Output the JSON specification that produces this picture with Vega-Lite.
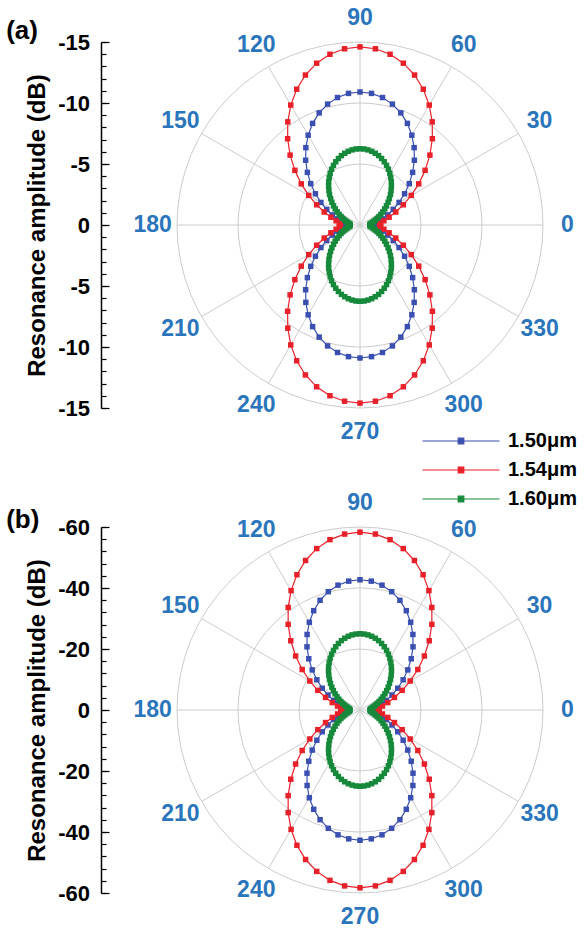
{
"$schema": "https://vega.github.io/schema/vega-lite/v6.json",
"autosize": {"type": "pad"},
"padding": {"left": 6, "top": 6, "right": 0, "bottom": 0},
"background": "white",
"config": {"view": {"stroke": null}, "font": "Liberation Sans"},
"datasets": {
"spokes": [{"a":0},{"a":30},{"a":60},{"a":90},{"a":120},{"a":150}],
"lab": [{"a":0},{"a":30},{"a":60},{"a":90},{"a":120},{"a":150},{"a":180},{"a":210},{"a":240},{"a":270},{"a":300},{"a":330}],
"ringsA": [{"g":5},{"g":10},{"g":15}],
"ringsB": [{"g":20},{"g":40},{"g":60}],
"a": [
{"s":"1.50μm","t":0,"r":1.3},{"s":"1.50μm","t":5,"r":1.37},{"s":"1.50μm","t":10,"r":1.59},{"s":"1.50μm","t":15,"r":1.94},{"s":"1.50μm","t":20,"r":2.42},{"s":"1.50μm","t":25,"r":3.01},{"s":"1.50μm","t":30,"r":3.7},{"s":"1.50μm","t":35,"r":4.46},{"s":"1.50μm","t":40,"r":5.27},{"s":"1.50μm","t":45,"r":6.1},{"s":"1.50μm","t":50,"r":6.93},{"s":"1.50μm","t":55,"r":7.74},{"s":"1.50μm","t":60,"r":8.5},{"s":"1.50μm","t":65,"r":9.19},{"s":"1.50μm","t":70,"r":9.78},{"s":"1.50μm","t":75,"r":10.26},{"s":"1.50μm","t":80,"r":10.61},{"s":"1.50μm","t":85,"r":10.83},{"s":"1.50μm","t":90,"r":10.9},
{"s":"1.50μm","t":95,"r":10.83},{"s":"1.50μm","t":100,"r":10.61},{"s":"1.50μm","t":105,"r":10.26},{"s":"1.50μm","t":110,"r":9.78},{"s":"1.50μm","t":115,"r":9.19},{"s":"1.50μm","t":120,"r":8.5},{"s":"1.50μm","t":125,"r":7.74},{"s":"1.50μm","t":130,"r":6.93},{"s":"1.50μm","t":135,"r":6.1},{"s":"1.50μm","t":140,"r":5.27},{"s":"1.50μm","t":145,"r":4.46},{"s":"1.50μm","t":150,"r":3.7},{"s":"1.50μm","t":155,"r":3.01},{"s":"1.50μm","t":160,"r":2.42},{"s":"1.50μm","t":165,"r":1.94},{"s":"1.50μm","t":170,"r":1.59},{"s":"1.50μm","t":175,"r":1.37},{"s":"1.50μm","t":180,"r":1.3},
{"s":"1.50μm","t":185,"r":1.37},{"s":"1.50μm","t":190,"r":1.59},{"s":"1.50μm","t":195,"r":1.94},{"s":"1.50μm","t":200,"r":2.42},{"s":"1.50μm","t":205,"r":3.01},{"s":"1.50μm","t":210,"r":3.7},{"s":"1.50μm","t":215,"r":4.46},{"s":"1.50μm","t":220,"r":5.27},{"s":"1.50μm","t":225,"r":6.1},{"s":"1.50μm","t":230,"r":6.93},{"s":"1.50μm","t":235,"r":7.74},{"s":"1.50μm","t":240,"r":8.5},{"s":"1.50μm","t":245,"r":9.19},{"s":"1.50μm","t":250,"r":9.78},{"s":"1.50μm","t":255,"r":10.26},{"s":"1.50μm","t":260,"r":10.61},{"s":"1.50μm","t":265,"r":10.83},{"s":"1.50μm","t":270,"r":10.9},
{"s":"1.50μm","t":275,"r":10.83},{"s":"1.50μm","t":280,"r":10.61},{"s":"1.50μm","t":285,"r":10.26},{"s":"1.50μm","t":290,"r":9.78},{"s":"1.50μm","t":295,"r":9.19},{"s":"1.50μm","t":300,"r":8.5},{"s":"1.50μm","t":305,"r":7.74},{"s":"1.50μm","t":310,"r":6.93},{"s":"1.50μm","t":315,"r":6.1},{"s":"1.50μm","t":320,"r":5.27},{"s":"1.50μm","t":325,"r":4.46},{"s":"1.50μm","t":330,"r":3.7},{"s":"1.50μm","t":335,"r":3.01},{"s":"1.50μm","t":340,"r":2.42},{"s":"1.50μm","t":345,"r":1.94},{"s":"1.50μm","t":350,"r":1.59},{"s":"1.50μm","t":355,"r":1.37},
{"s":"1.54μm","t":0,"r":1.6},{"s":"1.54μm","t":5,"r":1.7},{"s":"1.54μm","t":10,"r":1.99},{"s":"1.54μm","t":15,"r":2.47},{"s":"1.54μm","t":20,"r":3.12},{"s":"1.54μm","t":25,"r":3.92},{"s":"1.54μm","t":30,"r":4.85},{"s":"1.54μm","t":35,"r":5.88},{"s":"1.54μm","t":40,"r":6.97},{"s":"1.54μm","t":45,"r":8.1},{"s":"1.54μm","t":50,"r":9.23},{"s":"1.54μm","t":55,"r":10.32},{"s":"1.54μm","t":60,"r":11.35},{"s":"1.54μm","t":65,"r":12.28},{"s":"1.54μm","t":70,"r":13.08},{"s":"1.54μm","t":75,"r":13.73},{"s":"1.54μm","t":80,"r":14.21},{"s":"1.54μm","t":85,"r":14.5},{"s":"1.54μm","t":90,"r":14.6},
{"s":"1.54μm","t":95,"r":14.5},{"s":"1.54μm","t":100,"r":14.21},{"s":"1.54μm","t":105,"r":13.73},{"s":"1.54μm","t":110,"r":13.08},{"s":"1.54μm","t":115,"r":12.28},{"s":"1.54μm","t":120,"r":11.35},{"s":"1.54μm","t":125,"r":10.32},{"s":"1.54μm","t":130,"r":9.23},{"s":"1.54μm","t":135,"r":8.1},{"s":"1.54μm","t":140,"r":6.97},{"s":"1.54μm","t":145,"r":5.88},{"s":"1.54μm","t":150,"r":4.85},{"s":"1.54μm","t":155,"r":3.92},{"s":"1.54μm","t":160,"r":3.12},{"s":"1.54μm","t":165,"r":2.47},{"s":"1.54μm","t":170,"r":1.99},{"s":"1.54μm","t":175,"r":1.7},{"s":"1.54μm","t":180,"r":1.6},
{"s":"1.54μm","t":185,"r":1.7},{"s":"1.54μm","t":190,"r":1.99},{"s":"1.54μm","t":195,"r":2.47},{"s":"1.54μm","t":200,"r":3.12},{"s":"1.54μm","t":205,"r":3.92},{"s":"1.54μm","t":210,"r":4.85},{"s":"1.54μm","t":215,"r":5.88},{"s":"1.54μm","t":220,"r":6.97},{"s":"1.54μm","t":225,"r":8.1},{"s":"1.54μm","t":230,"r":9.23},{"s":"1.54μm","t":235,"r":10.32},{"s":"1.54μm","t":240,"r":11.35},{"s":"1.54μm","t":245,"r":12.28},{"s":"1.54μm","t":250,"r":13.08},{"s":"1.54μm","t":255,"r":13.73},{"s":"1.54μm","t":260,"r":14.21},{"s":"1.54μm","t":265,"r":14.5},{"s":"1.54μm","t":270,"r":14.6},
{"s":"1.54μm","t":275,"r":14.5},{"s":"1.54μm","t":280,"r":14.21},{"s":"1.54μm","t":285,"r":13.73},{"s":"1.54μm","t":290,"r":13.08},{"s":"1.54μm","t":295,"r":12.28},{"s":"1.54μm","t":300,"r":11.35},{"s":"1.54μm","t":305,"r":10.32},{"s":"1.54μm","t":310,"r":9.23},{"s":"1.54μm","t":315,"r":8.1},{"s":"1.54μm","t":320,"r":6.97},{"s":"1.54μm","t":325,"r":5.88},{"s":"1.54μm","t":330,"r":4.85},{"s":"1.54μm","t":335,"r":3.92},{"s":"1.54μm","t":340,"r":3.12},{"s":"1.54μm","t":345,"r":2.47},{"s":"1.54μm","t":350,"r":1.99},{"s":"1.54μm","t":355,"r":1.7},
{"s":"1.60μm","t":0,"r":0.8},{"s":"1.60μm","t":3,"r":0.81},{"s":"1.60μm","t":6,"r":0.86},{"s":"1.60μm","t":9,"r":0.93},{"s":"1.60μm","t":12,"r":1.04},{"s":"1.60μm","t":15,"r":1.17},{"s":"1.60μm","t":18,"r":1.32},{"s":"1.60μm","t":21,"r":1.5},{"s":"1.60μm","t":24,"r":1.7},{"s":"1.60μm","t":27,"r":1.92},{"s":"1.60μm","t":30,"r":2.16},{"s":"1.60μm","t":33,"r":2.42},{"s":"1.60μm","t":36,"r":2.68},{"s":"1.60μm","t":39,"r":2.96},{"s":"1.60μm","t":42,"r":3.24},{"s":"1.60μm","t":45,"r":3.53},{"s":"1.60μm","t":48,"r":3.81},{"s":"1.60μm","t":51,"r":4.09},{"s":"1.60μm","t":54,"r":4.37},{"s":"1.60μm","t":57,"r":4.63},{"s":"1.60μm","t":60,"r":4.89},{"s":"1.60μm","t":63,"r":5.13},{"s":"1.60μm","t":66,"r":5.35},{"s":"1.60μm","t":69,"r":5.55},{"s":"1.60μm","t":72,"r":5.73},{"s":"1.60μm","t":75,"r":5.89},{"s":"1.60μm","t":78,"r":6.01},{"s":"1.60μm","t":81,"r":6.12},{"s":"1.60μm","t":84,"r":6.19},{"s":"1.60μm","t":87,"r":6.24},{"s":"1.60μm","t":90,"r":6.25},
{"s":"1.60μm","t":93,"r":6.24},{"s":"1.60μm","t":96,"r":6.19},{"s":"1.60μm","t":99,"r":6.12},{"s":"1.60μm","t":102,"r":6.01},{"s":"1.60μm","t":105,"r":5.89},{"s":"1.60μm","t":108,"r":5.73},{"s":"1.60μm","t":111,"r":5.55},{"s":"1.60μm","t":114,"r":5.35},{"s":"1.60μm","t":117,"r":5.13},{"s":"1.60μm","t":120,"r":4.89},{"s":"1.60μm","t":123,"r":4.63},{"s":"1.60μm","t":126,"r":4.37},{"s":"1.60μm","t":129,"r":4.09},{"s":"1.60μm","t":132,"r":3.81},{"s":"1.60μm","t":135,"r":3.53},{"s":"1.60μm","t":138,"r":3.24},{"s":"1.60μm","t":141,"r":2.96},{"s":"1.60μm","t":144,"r":2.68},{"s":"1.60μm","t":147,"r":2.42},{"s":"1.60μm","t":150,"r":2.16},{"s":"1.60μm","t":153,"r":1.92},{"s":"1.60μm","t":156,"r":1.7},{"s":"1.60μm","t":159,"r":1.5},{"s":"1.60μm","t":162,"r":1.32},{"s":"1.60μm","t":165,"r":1.17},{"s":"1.60μm","t":168,"r":1.04},{"s":"1.60μm","t":171,"r":0.93},{"s":"1.60μm","t":174,"r":0.86},{"s":"1.60μm","t":177,"r":0.81},{"s":"1.60μm","t":180,"r":0.8},
{"s":"1.60μm","t":183,"r":0.81},{"s":"1.60μm","t":186,"r":0.86},{"s":"1.60μm","t":189,"r":0.93},{"s":"1.60μm","t":192,"r":1.04},{"s":"1.60μm","t":195,"r":1.17},{"s":"1.60μm","t":198,"r":1.32},{"s":"1.60μm","t":201,"r":1.5},{"s":"1.60μm","t":204,"r":1.7},{"s":"1.60μm","t":207,"r":1.92},{"s":"1.60μm","t":210,"r":2.16},{"s":"1.60μm","t":213,"r":2.42},{"s":"1.60μm","t":216,"r":2.68},{"s":"1.60μm","t":219,"r":2.96},{"s":"1.60μm","t":222,"r":3.24},{"s":"1.60μm","t":225,"r":3.53},{"s":"1.60μm","t":228,"r":3.81},{"s":"1.60μm","t":231,"r":4.09},{"s":"1.60μm","t":234,"r":4.37},{"s":"1.60μm","t":237,"r":4.63},{"s":"1.60μm","t":240,"r":4.89},{"s":"1.60μm","t":243,"r":5.13},{"s":"1.60μm","t":246,"r":5.35},{"s":"1.60μm","t":249,"r":5.55},{"s":"1.60μm","t":252,"r":5.73},{"s":"1.60μm","t":255,"r":5.89},{"s":"1.60μm","t":258,"r":6.01},{"s":"1.60μm","t":261,"r":6.12},{"s":"1.60μm","t":264,"r":6.19},{"s":"1.60μm","t":267,"r":6.24},{"s":"1.60μm","t":270,"r":6.25},
{"s":"1.60μm","t":273,"r":6.24},{"s":"1.60μm","t":276,"r":6.19},{"s":"1.60μm","t":279,"r":6.12},{"s":"1.60μm","t":282,"r":6.01},{"s":"1.60μm","t":285,"r":5.89},{"s":"1.60μm","t":288,"r":5.73},{"s":"1.60μm","t":291,"r":5.55},{"s":"1.60μm","t":294,"r":5.35},{"s":"1.60μm","t":297,"r":5.13},{"s":"1.60μm","t":300,"r":4.89},{"s":"1.60μm","t":303,"r":4.63},{"s":"1.60μm","t":306,"r":4.37},{"s":"1.60μm","t":309,"r":4.09},{"s":"1.60μm","t":312,"r":3.81},{"s":"1.60μm","t":315,"r":3.53},{"s":"1.60μm","t":318,"r":3.24},{"s":"1.60μm","t":321,"r":2.96},{"s":"1.60μm","t":324,"r":2.68},{"s":"1.60μm","t":327,"r":2.42},{"s":"1.60μm","t":330,"r":2.16},{"s":"1.60μm","t":333,"r":1.92},{"s":"1.60μm","t":336,"r":1.7},{"s":"1.60μm","t":339,"r":1.5},{"s":"1.60μm","t":342,"r":1.32},{"s":"1.60μm","t":345,"r":1.17},{"s":"1.60μm","t":348,"r":1.04},{"s":"1.60μm","t":351,"r":0.93},{"s":"1.60μm","t":354,"r":0.86},{"s":"1.60μm","t":357,"r":0.81}
],
"b": [
{"s":"1.50μm","t":0,"r":4.8},{"s":"1.50μm","t":5,"r":5.09},{"s":"1.50μm","t":10,"r":5.94},{"s":"1.50μm","t":15,"r":7.34},{"s":"1.50μm","t":20,"r":9.23},{"s":"1.50μm","t":25,"r":11.57},{"s":"1.50μm","t":30,"r":14.28},{"s":"1.50μm","t":35,"r":17.27},{"s":"1.50μm","t":40,"r":20.46},{"s":"1.50μm","t":45,"r":23.75},{"s":"1.50μm","t":50,"r":27.04},{"s":"1.50μm","t":55,"r":30.23},{"s":"1.50μm","t":60,"r":33.23},{"s":"1.50μm","t":65,"r":35.93},{"s":"1.50μm","t":70,"r":38.27},{"s":"1.50μm","t":75,"r":40.16},{"s":"1.50μm","t":80,"r":41.56},{"s":"1.50μm","t":85,"r":42.41},{"s":"1.50μm","t":90,"r":42.7},
{"s":"1.50μm","t":95,"r":42.41},{"s":"1.50μm","t":100,"r":41.56},{"s":"1.50μm","t":105,"r":40.16},{"s":"1.50μm","t":110,"r":38.27},{"s":"1.50μm","t":115,"r":35.93},{"s":"1.50μm","t":120,"r":33.23},{"s":"1.50μm","t":125,"r":30.23},{"s":"1.50μm","t":130,"r":27.04},{"s":"1.50μm","t":135,"r":23.75},{"s":"1.50μm","t":140,"r":20.46},{"s":"1.50μm","t":145,"r":17.27},{"s":"1.50μm","t":150,"r":14.28},{"s":"1.50μm","t":155,"r":11.57},{"s":"1.50μm","t":160,"r":9.23},{"s":"1.50μm","t":165,"r":7.34},{"s":"1.50μm","t":170,"r":5.94},{"s":"1.50μm","t":175,"r":5.09},{"s":"1.50μm","t":180,"r":4.8},
{"s":"1.50μm","t":185,"r":5.09},{"s":"1.50μm","t":190,"r":5.94},{"s":"1.50μm","t":195,"r":7.34},{"s":"1.50μm","t":200,"r":9.23},{"s":"1.50μm","t":205,"r":11.57},{"s":"1.50μm","t":210,"r":14.28},{"s":"1.50μm","t":215,"r":17.27},{"s":"1.50μm","t":220,"r":20.46},{"s":"1.50μm","t":225,"r":23.75},{"s":"1.50μm","t":230,"r":27.04},{"s":"1.50μm","t":235,"r":30.23},{"s":"1.50μm","t":240,"r":33.23},{"s":"1.50μm","t":245,"r":35.93},{"s":"1.50μm","t":250,"r":38.27},{"s":"1.50μm","t":255,"r":40.16},{"s":"1.50μm","t":260,"r":41.56},{"s":"1.50μm","t":265,"r":42.41},{"s":"1.50μm","t":270,"r":42.7},
{"s":"1.50μm","t":275,"r":42.41},{"s":"1.50μm","t":280,"r":41.56},{"s":"1.50μm","t":285,"r":40.16},{"s":"1.50μm","t":290,"r":38.27},{"s":"1.50μm","t":295,"r":35.93},{"s":"1.50μm","t":300,"r":33.23},{"s":"1.50μm","t":305,"r":30.23},{"s":"1.50μm","t":310,"r":27.04},{"s":"1.50μm","t":315,"r":23.75},{"s":"1.50μm","t":320,"r":20.46},{"s":"1.50μm","t":325,"r":17.27},{"s":"1.50μm","t":330,"r":14.28},{"s":"1.50μm","t":335,"r":11.57},{"s":"1.50μm","t":340,"r":9.23},{"s":"1.50μm","t":345,"r":7.34},{"s":"1.50μm","t":350,"r":5.94},{"s":"1.50μm","t":355,"r":5.09},
{"s":"1.54μm","t":0,"r":5.9},{"s":"1.54μm","t":5,"r":6.3},{"s":"1.54μm","t":10,"r":7.48},{"s":"1.54μm","t":15,"r":9.41},{"s":"1.54μm","t":20,"r":12.03},{"s":"1.54μm","t":25,"r":15.26},{"s":"1.54μm","t":30,"r":19},{"s":"1.54μm","t":35,"r":23.14},{"s":"1.54μm","t":40,"r":27.55},{"s":"1.54μm","t":45,"r":32.1},{"s":"1.54μm","t":50,"r":36.65},{"s":"1.54μm","t":55,"r":41.06},{"s":"1.54μm","t":60,"r":45.2},{"s":"1.54μm","t":65,"r":48.94},{"s":"1.54μm","t":70,"r":52.17},{"s":"1.54μm","t":75,"r":54.79},{"s":"1.54μm","t":80,"r":56.72},{"s":"1.54μm","t":85,"r":57.9},{"s":"1.54μm","t":90,"r":58.3},
{"s":"1.54μm","t":95,"r":57.9},{"s":"1.54μm","t":100,"r":56.72},{"s":"1.54μm","t":105,"r":54.79},{"s":"1.54μm","t":110,"r":52.17},{"s":"1.54μm","t":115,"r":48.94},{"s":"1.54μm","t":120,"r":45.2},{"s":"1.54μm","t":125,"r":41.06},{"s":"1.54μm","t":130,"r":36.65},{"s":"1.54μm","t":135,"r":32.1},{"s":"1.54μm","t":140,"r":27.55},{"s":"1.54μm","t":145,"r":23.14},{"s":"1.54μm","t":150,"r":19},{"s":"1.54μm","t":155,"r":15.26},{"s":"1.54μm","t":160,"r":12.03},{"s":"1.54μm","t":165,"r":9.41},{"s":"1.54μm","t":170,"r":7.48},{"s":"1.54μm","t":175,"r":6.3},{"s":"1.54μm","t":180,"r":5.9},
{"s":"1.54μm","t":185,"r":6.3},{"s":"1.54μm","t":190,"r":7.48},{"s":"1.54μm","t":195,"r":9.41},{"s":"1.54μm","t":200,"r":12.03},{"s":"1.54μm","t":205,"r":15.26},{"s":"1.54μm","t":210,"r":19},{"s":"1.54μm","t":215,"r":23.14},{"s":"1.54μm","t":220,"r":27.55},{"s":"1.54μm","t":225,"r":32.1},{"s":"1.54μm","t":230,"r":36.65},{"s":"1.54μm","t":235,"r":41.06},{"s":"1.54μm","t":240,"r":45.2},{"s":"1.54μm","t":245,"r":48.94},{"s":"1.54μm","t":250,"r":52.17},{"s":"1.54μm","t":255,"r":54.79},{"s":"1.54μm","t":260,"r":56.72},{"s":"1.54μm","t":265,"r":57.9},{"s":"1.54μm","t":270,"r":58.3},
{"s":"1.54μm","t":275,"r":57.9},{"s":"1.54μm","t":280,"r":56.72},{"s":"1.54μm","t":285,"r":54.79},{"s":"1.54μm","t":290,"r":52.17},{"s":"1.54μm","t":295,"r":48.94},{"s":"1.54μm","t":300,"r":45.2},{"s":"1.54μm","t":305,"r":41.06},{"s":"1.54μm","t":310,"r":36.65},{"s":"1.54μm","t":315,"r":32.1},{"s":"1.54μm","t":320,"r":27.55},{"s":"1.54μm","t":325,"r":23.14},{"s":"1.54μm","t":330,"r":19},{"s":"1.54μm","t":335,"r":15.26},{"s":"1.54μm","t":340,"r":12.03},{"s":"1.54μm","t":345,"r":9.41},{"s":"1.54μm","t":350,"r":7.48},{"s":"1.54μm","t":355,"r":6.3},
{"s":"1.60μm","t":0,"r":3.3},{"s":"1.60μm","t":3,"r":3.36},{"s":"1.60μm","t":6,"r":3.54},{"s":"1.60μm","t":9,"r":3.83},{"s":"1.60μm","t":12,"r":4.24},{"s":"1.60μm","t":15,"r":4.75},{"s":"1.60μm","t":18,"r":5.37},{"s":"1.60μm","t":21,"r":6.09},{"s":"1.60μm","t":24,"r":6.89},{"s":"1.60μm","t":27,"r":7.77},{"s":"1.60μm","t":30,"r":8.73},{"s":"1.60μm","t":33,"r":9.74},{"s":"1.60μm","t":36,"r":10.8},{"s":"1.60μm","t":39,"r":11.89},{"s":"1.60μm","t":42,"r":13.02},{"s":"1.60μm","t":45,"r":14.15},{"s":"1.60μm","t":48,"r":15.28},{"s":"1.60μm","t":51,"r":16.41},{"s":"1.60μm","t":54,"r":17.5},{"s":"1.60μm","t":57,"r":18.56},{"s":"1.60μm","t":60,"r":19.58},{"s":"1.60μm","t":63,"r":20.53},{"s":"1.60μm","t":66,"r":21.41},{"s":"1.60μm","t":69,"r":22.21},{"s":"1.60μm","t":72,"r":22.93},{"s":"1.60μm","t":75,"r":23.55},{"s":"1.60μm","t":78,"r":24.06},{"s":"1.60μm","t":81,"r":24.47},{"s":"1.60μm","t":84,"r":24.76},{"s":"1.60μm","t":87,"r":24.94},{"s":"1.60μm","t":90,"r":25},
{"s":"1.60μm","t":93,"r":24.94},{"s":"1.60μm","t":96,"r":24.76},{"s":"1.60μm","t":99,"r":24.47},{"s":"1.60μm","t":102,"r":24.06},{"s":"1.60μm","t":105,"r":23.55},{"s":"1.60μm","t":108,"r":22.93},{"s":"1.60μm","t":111,"r":22.21},{"s":"1.60μm","t":114,"r":21.41},{"s":"1.60μm","t":117,"r":20.53},{"s":"1.60μm","t":120,"r":19.58},{"s":"1.60μm","t":123,"r":18.56},{"s":"1.60μm","t":126,"r":17.5},{"s":"1.60μm","t":129,"r":16.41},{"s":"1.60μm","t":132,"r":15.28},{"s":"1.60μm","t":135,"r":14.15},{"s":"1.60μm","t":138,"r":13.02},{"s":"1.60μm","t":141,"r":11.89},{"s":"1.60μm","t":144,"r":10.8},{"s":"1.60μm","t":147,"r":9.74},{"s":"1.60μm","t":150,"r":8.73},{"s":"1.60μm","t":153,"r":7.77},{"s":"1.60μm","t":156,"r":6.89},{"s":"1.60μm","t":159,"r":6.09},{"s":"1.60μm","t":162,"r":5.37},{"s":"1.60μm","t":165,"r":4.75},{"s":"1.60μm","t":168,"r":4.24},{"s":"1.60μm","t":171,"r":3.83},{"s":"1.60μm","t":174,"r":3.54},{"s":"1.60μm","t":177,"r":3.36},{"s":"1.60μm","t":180,"r":3.3},
{"s":"1.60μm","t":183,"r":3.36},{"s":"1.60μm","t":186,"r":3.54},{"s":"1.60μm","t":189,"r":3.83},{"s":"1.60μm","t":192,"r":4.24},{"s":"1.60μm","t":195,"r":4.75},{"s":"1.60μm","t":198,"r":5.37},{"s":"1.60μm","t":201,"r":6.09},{"s":"1.60μm","t":204,"r":6.89},{"s":"1.60μm","t":207,"r":7.77},{"s":"1.60μm","t":210,"r":8.73},{"s":"1.60μm","t":213,"r":9.74},{"s":"1.60μm","t":216,"r":10.8},{"s":"1.60μm","t":219,"r":11.89},{"s":"1.60μm","t":222,"r":13.02},{"s":"1.60μm","t":225,"r":14.15},{"s":"1.60μm","t":228,"r":15.28},{"s":"1.60μm","t":231,"r":16.41},{"s":"1.60μm","t":234,"r":17.5},{"s":"1.60μm","t":237,"r":18.56},{"s":"1.60μm","t":240,"r":19.58},{"s":"1.60μm","t":243,"r":20.53},{"s":"1.60μm","t":246,"r":21.41},{"s":"1.60μm","t":249,"r":22.21},{"s":"1.60μm","t":252,"r":22.93},{"s":"1.60μm","t":255,"r":23.55},{"s":"1.60μm","t":258,"r":24.06},{"s":"1.60μm","t":261,"r":24.47},{"s":"1.60μm","t":264,"r":24.76},{"s":"1.60μm","t":267,"r":24.94},{"s":"1.60μm","t":270,"r":25},
{"s":"1.60μm","t":273,"r":24.94},{"s":"1.60μm","t":276,"r":24.76},{"s":"1.60μm","t":279,"r":24.47},{"s":"1.60μm","t":282,"r":24.06},{"s":"1.60μm","t":285,"r":23.55},{"s":"1.60μm","t":288,"r":22.93},{"s":"1.60μm","t":291,"r":22.21},{"s":"1.60μm","t":294,"r":21.41},{"s":"1.60μm","t":297,"r":20.53},{"s":"1.60μm","t":300,"r":19.58},{"s":"1.60μm","t":303,"r":18.56},{"s":"1.60μm","t":306,"r":17.5},{"s":"1.60μm","t":309,"r":16.41},{"s":"1.60μm","t":312,"r":15.28},{"s":"1.60μm","t":315,"r":14.15},{"s":"1.60μm","t":318,"r":13.02},{"s":"1.60μm","t":321,"r":11.89},{"s":"1.60μm","t":324,"r":10.8},{"s":"1.60μm","t":327,"r":9.74},{"s":"1.60μm","t":330,"r":8.73},{"s":"1.60μm","t":333,"r":7.77},{"s":"1.60μm","t":336,"r":6.89},{"s":"1.60μm","t":339,"r":6.09},{"s":"1.60μm","t":342,"r":5.37},{"s":"1.60μm","t":345,"r":4.75},{"s":"1.60μm","t":348,"r":4.24},{"s":"1.60μm","t":351,"r":3.83},{"s":"1.60μm","t":354,"r":3.54},{"s":"1.60μm","t":357,"r":3.36}
]
},
"vconcat": [
{
"width": 366, "height": 366,
"resolve": {"axis": {"y": "independent"}},
"layer": [
{"data": {"name": "ringsA"}, "mark": {"type": "point", "shape": "circle", "filled": false, "stroke": "#cccccc", "strokeWidth": 1, "opacity": 1},
 "encoding": {"x": {"datum": 0, "type": "quantitative", "scale": {"domain": [-15, 15], "nice": false, "zero": false}, "axis": null},
  "y": {"datum": 0, "type": "quantitative", "scale": {"domain": [-15, 15], "nice": false, "zero": false}, "axis": null},
  "size": {"field": "g", "type": "quantitative", "scale": {"type": "pow", "exponent": 2, "domain": [0, 15], "range": [0, 133956], "zero": true}, "legend": null}}},
{"data": {"name": "spokes"},
 "transform": [{"calculate": "15*cos(datum.a*PI/180)", "as": "x"}, {"calculate": "15*sin(datum.a*PI/180)", "as": "y"}, {"calculate": "-datum.x", "as": "x2"}, {"calculate": "-datum.y", "as": "y2"}],
 "mark": {"type": "rule", "color": "#cccccc", "strokeWidth": 1},
 "encoding": {
  "x": {"field": "x", "type": "quantitative", "axis": null},
  "y": {"field": "y", "type": "quantitative",
   "axis": {"orient": "left", "values": [-15, -10, -5, 0, 5, 10, 15],
    "labelExpr": "datum.value == 0 ? '0' : '-' + abs(datum.value)",
    "offset": 76, "grid": false, "domainColor": "#000000", "domainWidth": 1.5, "tickColor": "#000000", "tickWidth": 1.2, "tickSize": -8,
    "labelPadding": 19.5, "labelFont": "Liberation Sans", "labelFontSize": 22, "labelFontWeight": "bold", "labelColor": "#000000",
    "labelOverlap": false, "labelFlush": false,
    "title": "Resonance amplitude (dB)", "titleFont": "Liberation Sans", "titleFontSize": 24, "titleFontWeight": "bold", "titleColor": "#000000", "titlePadding": 8}},
  "x2": {"field": "x2"}, "y2": {"field": "y2"}}},
{"data": {"name": "a"},
 "transform": [{"calculate": "datum.r*cos(datum.t*PI/180)", "as": "x"}, {"calculate": "datum.r*sin(datum.t*PI/180)", "as": "y"}],
 "layer": [
  {"mark": {"type": "line", "strokeWidth": 1.2, "interpolate": "linear-closed"},
   "encoding": {
    "x": {"field": "x", "type": "quantitative", "axis": null},
    "y": {"field": "y", "type": "quantitative", "axis": null},
    "order": {"field": "t", "type": "quantitative"},
    "color": {"field": "s", "type": "nominal", "scale": {"domain": ["1.50μm", "1.54μm", "1.60μm"], "range": ["#3a4fb0", "#e8202a", "#16893a"]},
     "legend": {"orient": "none", "legendX": 274, "legendY": 389, "title": null, "padding": 0,
      "symbolType": "M-7.7,0L7.7,0M-0.56,-0.56L0.56,-0.56L0.56,0.56L-0.56,0.56Z", "symbolSize": 100, "symbolStrokeWidth": 1.2,
      "labelFont": "Liberation Sans", "labelFontSize": 20, "labelFontWeight": "bold", "labelColor": "#000000", "labelOffset": 37, "rowPadding": 9,
      "encode": {"symbols": {"update": {"fill": {"scale": "color", "field": "value"}, "stroke": {"scale": "color", "field": "value"}}}}}}}},
  {"mark": {"type": "point", "shape": "square", "filled": true, "size": 30, "opacity": 1},
   "encoding": {
    "x": {"field": "x", "type": "quantitative", "axis": null},
    "y": {"field": "y", "type": "quantitative", "axis": null},
    "color": {"field": "s", "type": "nominal"}}}
 ]},
{"data": {"name": "lab"},
 "transform": [{"calculate": "17*cos(datum.a*PI/180)", "as": "x"}, {"calculate": "17*sin(datum.a*PI/180)", "as": "y"}],
 "mark": {"type": "text", "font": "Liberation Sans", "fontSize": 23, "fontWeight": "bold", "color": "#2a75bb", "align": "center", "baseline": "middle"},
 "encoding": {"x": {"field": "x", "type": "quantitative", "axis": null},
  "y": {"field": "y", "type": "quantitative",
   "axis": {"orient": "left", "values": [-15,-14,-13,-12,-11,-10,-9,-8,-7,-6,-5,-4,-3,-2,-1,0,1,2,3,4,5,6,7,8,9,10,11,12,13,14,15],
    "offset": 76, "grid": false, "domain": false, "labels": false, "title": null, "tickColor": "#000000", "tickWidth": 1.2, "tickSize": -5}},
  "text": {"field": "a", "type": "nominal"}}},
{"data": {"values": [{"p": "(a)"}]},
 "mark": {"type": "text", "font": "Liberation Sans", "fontSize": 26, "fontWeight": "bold", "color": "#000000", "align": "left", "baseline": "middle"},
 "encoding": {"x": {"datum": -29, "type": "quantitative", "axis": null}, "y": {"datum": 15.9, "type": "quantitative", "axis": null}, "text": {"field": "p"}}}
]
},
{
"width": 366, "height": 366,
"resolve": {"axis": {"y": "independent"}},
"layer": [
{"data": {"name": "ringsB"}, "mark": {"type": "point", "shape": "circle", "filled": false, "stroke": "#cccccc", "strokeWidth": 1, "opacity": 1},
 "encoding": {"x": {"datum": 0, "type": "quantitative", "scale": {"domain": [-60, 60], "nice": false, "zero": false}, "axis": null},
  "y": {"datum": 0, "type": "quantitative", "scale": {"domain": [-60, 60], "nice": false, "zero": false}, "axis": null},
  "size": {"field": "g", "type": "quantitative", "scale": {"type": "pow", "exponent": 2, "domain": [0, 60], "range": [0, 133956], "zero": true}, "legend": null}}},
{"data": {"name": "spokes"},
 "transform": [{"calculate": "60*cos(datum.a*PI/180)", "as": "x"}, {"calculate": "60*sin(datum.a*PI/180)", "as": "y"}, {"calculate": "-datum.x", "as": "x2"}, {"calculate": "-datum.y", "as": "y2"}],
 "mark": {"type": "rule", "color": "#cccccc", "strokeWidth": 1},
 "encoding": {
  "x": {"field": "x", "type": "quantitative", "axis": null},
  "y": {"field": "y", "type": "quantitative",
   "axis": {"orient": "left", "values": [-60, -40, -20, 0, 20, 40, 60],
    "labelExpr": "datum.value == 0 ? '0' : '-' + abs(datum.value)",
    "offset": 76, "grid": false, "domainColor": "#000000", "domainWidth": 1.5, "tickColor": "#000000", "tickWidth": 1.2, "tickSize": -8,
    "labelPadding": 19.5, "labelFont": "Liberation Sans", "labelFontSize": 22, "labelFontWeight": "bold", "labelColor": "#000000",
    "labelOverlap": false, "labelFlush": false,
    "title": "Resonance amplitude (dB)", "titleFont": "Liberation Sans", "titleFontSize": 24, "titleFontWeight": "bold", "titleColor": "#000000", "titlePadding": 8}},
  "x2": {"field": "x2"}, "y2": {"field": "y2"}}},
{"data": {"name": "b"},
 "transform": [{"calculate": "datum.r*cos(datum.t*PI/180)", "as": "x"}, {"calculate": "datum.r*sin(datum.t*PI/180)", "as": "y"}],
 "layer": [
  {"mark": {"type": "line", "strokeWidth": 1.2, "interpolate": "linear-closed"},
   "encoding": {
    "x": {"field": "x", "type": "quantitative", "axis": null},
    "y": {"field": "y", "type": "quantitative", "axis": null},
    "order": {"field": "t", "type": "quantitative"},
    "color": {"field": "s", "type": "nominal"}}},
  {"mark": {"type": "point", "shape": "square", "filled": true, "size": 30, "opacity": 1},
   "encoding": {
    "x": {"field": "x", "type": "quantitative", "axis": null},
    "y": {"field": "y", "type": "quantitative", "axis": null},
    "color": {"field": "s", "type": "nominal"}}}
 ]},
{"data": {"name": "lab"},
 "transform": [{"calculate": "68*cos(datum.a*PI/180)", "as": "x"}, {"calculate": "68*sin(datum.a*PI/180)", "as": "y"}],
 "mark": {"type": "text", "font": "Liberation Sans", "fontSize": 23, "fontWeight": "bold", "color": "#2a75bb", "align": "center", "baseline": "middle"},
 "encoding": {"x": {"field": "x", "type": "quantitative", "axis": null},
  "y": {"field": "y", "type": "quantitative",
   "axis": {"orient": "left", "values": [-60,-56,-52,-48,-44,-40,-36,-32,-28,-24,-20,-16,-12,-8,-4,0,4,8,12,16,20,24,28,32,36,40,44,48,52,56,60],
    "offset": 76, "grid": false, "domain": false, "labels": false, "title": null, "tickColor": "#000000", "tickWidth": 1.2, "tickSize": -5}},
  "text": {"field": "a", "type": "nominal"}}},
{"data": {"values": [{"p": "(b)"}]},
 "mark": {"type": "text", "font": "Liberation Sans", "fontSize": 26, "fontWeight": "bold", "color": "#000000", "align": "left", "baseline": "middle"},
 "encoding": {"x": {"datum": -116, "type": "quantitative", "axis": null}, "y": {"datum": 62.3, "type": "quantitative", "axis": null}, "text": {"field": "p"}}}
]
}
],
"spacing": 119,
"bounds": "flush",
"resolve": {"scale": {"color": "shared", "size": "independent"}}
}
